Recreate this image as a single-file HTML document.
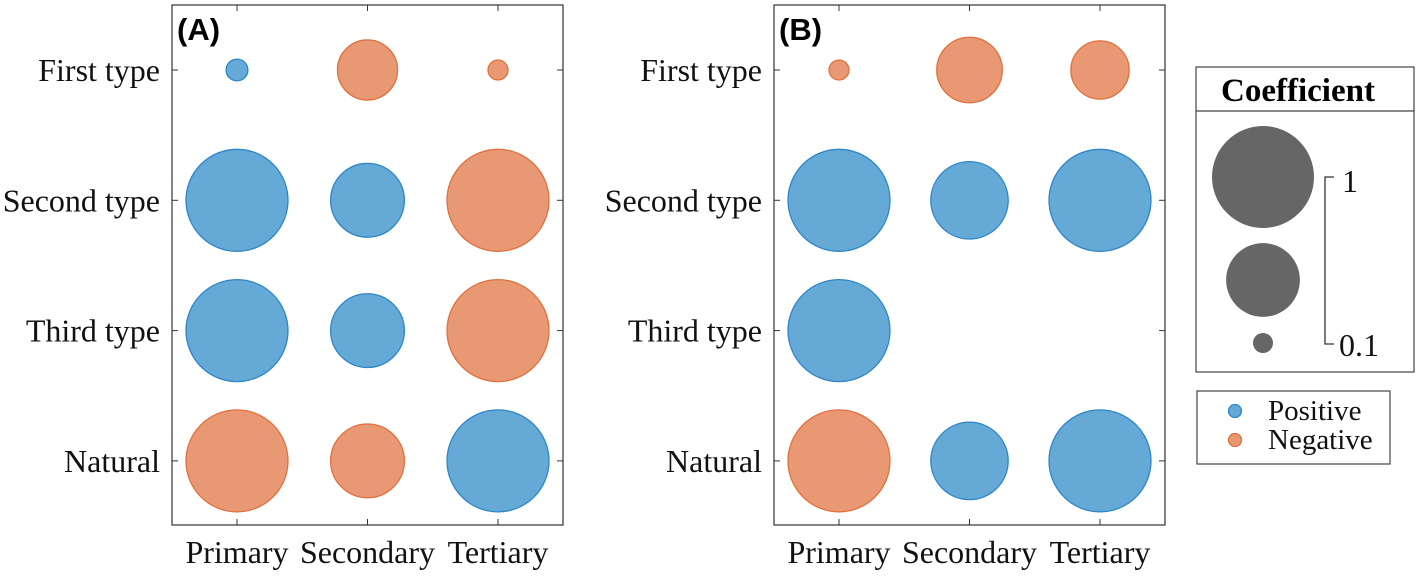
<!DOCTYPE html>
<html><head><meta charset="utf-8"><style>
body{margin:0;background:#fff;}
svg{display:block;font-family:"Liberation Serif",serif;}
</style></head><body>
<svg id="chart" width="1417" height="577">
</svg>
<script>
const rows = ["First type","Second type","Third type","Natural"];
const cols = ["Primary","Secondary","Tertiary"];
// signed coefficients: positive = blue, negative = orange; null = not shown
const panelA = [[0.12,-0.54,-0.10],[1,0.69,-1],[1,0.69,-1],[-1,-0.69,1]];
const panelB = [[-0.10,-0.60,-0.52],[1,0.73,1],[1,null,null],[-1,0.73,1]];
const legendValues = [1,0.69,0.1];
const legendLabels = ["1","0.1"];

const NS="http://www.w3.org/2000/svg";
const svg=document.getElementById('chart');
function mk(tag,attrs,parent){const e=document.createElementNS(NS,tag);for(const k in attrs)e.setAttribute(k,attrs[k]);(parent||svg).appendChild(e);return e;}
function rScale(v){return 10+(Math.abs(v)-0.1)/0.9*41;}
const BLUE="#65a9d7",BLUE_S="#2f86c6",ORG="#e89873",ORG_S="#e0703e";

function panel(x0,data,label,key){
  const g=mk('g',{});
  
  
  const w=391,top=5,bot=525;
  const xs=i=>x0+65+i*130.5, ys=j=>70+j*130.3;
  const box=mk('rect',{x:x0,y:top,width:w,height:bot-top,fill:'none',stroke:'#333','stroke-width':1.2},g);
  
  
  cols.forEach((c,i)=>{
    const x=xs(i);
    mk('line',{x1:x,x2:x,y1:top,y2:top+6,stroke:'#333'},g);
    mk('line',{x1:x,x2:x,y1:bot,y2:bot-6,stroke:'#333'},g);
    const t=mk('text',{x:x,y:563,'font-size':32,'text-anchor':'middle',fill:'#111'},g);
    t.textContent=c;
    
    
  });
  rows.forEach((r,j)=>{
    const y=ys(j);
    mk('line',{x1:x0,x2:x0+6,y1:y,y2:y,stroke:'#333'},g);
    mk('line',{x1:x0+w,x2:x0+w-6,y1:y,y2:y,stroke:'#333'},g);
    const t=mk('text',{x:x0-12,y:y+11,'font-size':32,'text-anchor':'end',fill:'#111'},g);
    t.textContent=r;
    
    
    data[j].forEach((v,i)=>{
      if(v===null)return;
      const c=mk('circle',{cx:xs(i),cy:y,r:rScale(v),fill:v>0?BLUE:ORG,stroke:v>0?BLUE_S:ORG_S,'stroke-width':1.3},g);
      
      
    });
  });
  const l=mk('text',{x:x0+5,y:40,'font-size':31,'font-weight':'bold','font-family':'Liberation Sans,sans-serif',fill:'#000'},g);
  l.textContent=label;
  
  
}
panel(172,panelA,"(A)","a");
panel(774,panelB,"(B)","b");

// size legend
const lg=mk('g',{});


mk('rect',{x:1196,y:67,width:218,height:305,fill:'#fff',stroke:'#444','stroke-width':1.2},lg);
mk('line',{x1:1196,x2:1414,y1:111,y2:111,stroke:'#444','stroke-width':1.2},lg);
const tt=mk('text',{x:1298,y:101,'font-size':33,'font-weight':'bold','text-anchor':'middle',fill:'#000'},lg);
tt.textContent="Coefficient";


const lys=[177,280,343];
legendValues.forEach((v,i)=>{
  const c=mk('circle',{cx:1263,cy:lys[i],r:rScale(v),fill:'#666'},lg);
  
  
});
mk('path',{d:'M1334 177 H1325 V344 H1334',fill:'none',stroke:'#333','stroke-width':1.3},lg);
const t1=mk('text',{x:1342,y:192,'font-size':32,fill:'#111'},lg);t1.textContent=legendLabels[0];


const t2=mk('text',{x:1339,y:356,'font-size':32,fill:'#111'},lg);t2.textContent=legendLabels[1];



// color legend
const cg=mk('g',{});


mk('rect',{x:1197,y:391,width:193,height:73,fill:'#fff',stroke:'#444','stroke-width':1.2},cg);
[["Positive",BLUE,BLUE_S,420],["Negative",ORG,ORG_S,449]].forEach(([n,f,s,y])=>{
  const c=mk('circle',{cx:1235,cy:y-9,r:6.5,fill:f,stroke:s,'stroke-width':1.3},cg);
  
  
  const t=mk('text',{x:1268,y:y,'font-size':29,fill:'#111'},cg);t.textContent=n;
  
  
});
</script>
</body></html>
